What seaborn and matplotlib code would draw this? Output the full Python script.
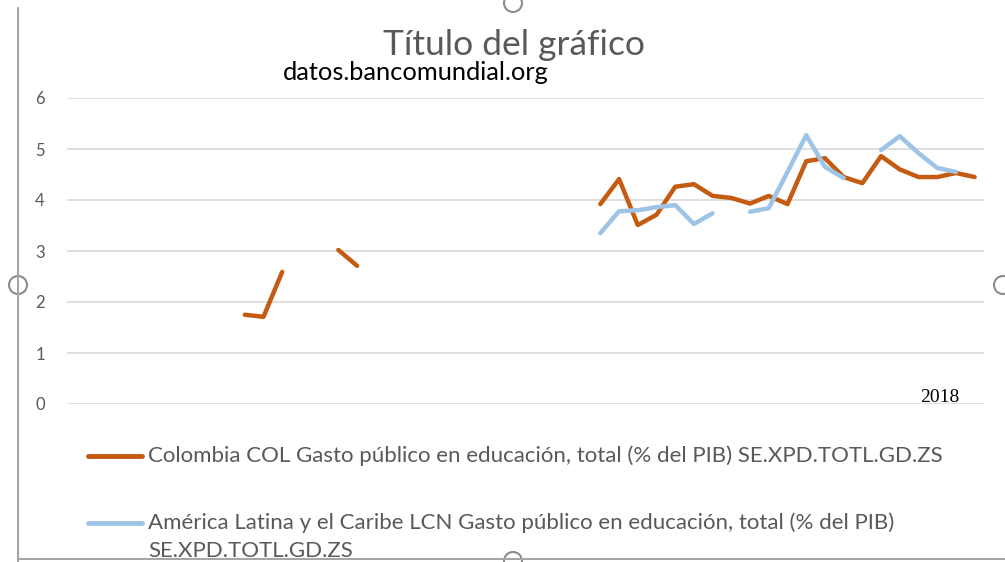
import seaborn as sns
import matplotlib.pyplot as plt
import matplotlib.patches as mpatches
from matplotlib.lines import Line2D
import numpy as np
import pandas as pd

# Datos (1970-2018), NaN = sin dato
anios = list(range(1970, 2019))
colombia = {
    1979: 1.75, 1980: 1.71, 1981: 2.59,
    1984: 3.02, 1985: 2.71,
    1998: 3.92, 1999: 4.41, 2000: 3.51, 2001: 3.71, 2002: 4.26, 2003: 4.31,
    2004: 4.08, 2005: 4.04, 2006: 3.93, 2007: 4.08, 2008: 3.92, 2009: 4.76,
    2010: 4.82, 2011: 4.45, 2012: 4.33, 2013: 4.86, 2014: 4.60, 2015: 4.45,
    2016: 4.45, 2017: 4.53, 2018: 4.45,
}
america_latina = {
    1998: 3.35, 1999: 3.78, 2000: 3.80, 2001: 3.86, 2002: 3.90, 2003: 3.53,
    2004: 3.74,
    2006: 3.77, 2007: 3.84, 2008: 4.55, 2009: 5.27, 2010: 4.65, 2011: 4.43,
    2013: 4.98, 2014: 5.25, 2015: 4.92, 2016: 4.63, 2017: 4.55,
}

etiqueta_col = "Colombia COL Gasto público en educación, total (% del PIB) SE.XPD.TOTL.GD.ZS"
etiqueta_lac = ["América Latina y el Caribe LCN Gasto público en educación, total (% del PIB)",
                "SE.XPD.TOTL.GD.ZS"]
color_col = "#C55A11"
color_lac = "#9DC3E6"
gris = "#595959"

sns.set_style("white")
plt.rcParams['font.family'] = ['Lato', 'DejaVu Sans']

fig = plt.figure(figsize=(10.05, 5.62), dpi=100)
ax = fig.add_axes([67 / 1005, 1 - 404 / 562, 917 / 1005, 306 / 562])


def tramos(datos):
    serie = pd.Series([datos.get(a, np.nan) for a in anios], index=anios).dropna()
    df = serie.rename("valor").rename_axis("anio").reset_index()
    df["tramo"] = (df["anio"].diff() != 1).cumsum()
    return df


for datos, color in [(colombia, color_col), (america_latina, color_lac)]:
    sns.lineplot(data=tramos(datos), x="anio", y="valor", units="tramo",
                 estimator=None, color=color, lw=3.2, ax=ax, legend=False,
                 solid_capstyle="round", solid_joinstyle="round")

ax.set_xlim(1969.5, 2018.5)
ax.set_ylim(0, 6)
ax.set_yticks(range(0, 7))
ax.set_xticks([])
ax.set_xlabel("")
ax.set_ylabel("")
ax.yaxis.grid(True, color="#D9D9D9", lw=1.2)
ax.tick_params(axis="y", length=0, pad=16, labelsize=12, labelcolor=gris)
for s in ax.spines.values():
    s.set_visible(False)

# Títulos
fig.text(514 / 1005, 1 - 45 / 562, "Título del gráfico", ha="center", va="center",
         fontsize=25.5, color=gris)
fig.text(283 / 1005, 1 - 72 / 562, "datos.bancomundial.org", ha="left", va="center",
         fontsize=18.3, color="black")
fig.text(940 / 1005, 1 - 397 / 562, "2018", ha="center", va="center",
         fontsize=14, color="black", family="Liberation Serif")

# Leyenda
fig.add_artist(Line2D([88 / 1005, 142 / 1005], [1 - 456 / 562] * 2, color=color_col, lw=3.5))
fig.text(148 / 1005, 1 - 456 / 562, etiqueta_col, ha="left", va="center",
         fontsize=16, color=gris)
fig.add_artist(Line2D([88 / 1005, 142 / 1005], [1 - 523 / 562] * 2, color=color_lac, lw=3.5))
fig.text(148 / 1005, 1 - 523 / 562, etiqueta_lac[0], ha="left", va="center",
         fontsize=16, color=gris)
fig.text(148 / 1005, 1 - 551 / 562, etiqueta_lac[1], ha="left", va="center",
         fontsize=16, color=gris)

# Marco y controladores de selección del gráfico
fig.add_artist(Line2D([18 / 1005, 18 / 1005], [0.0, 0.985], color="#A6A6A6", lw=1.5))
fig.add_artist(Line2D([18 / 1005, 1.0], [3 / 562, 3 / 562], color="#A6A6A6", lw=1.5))
for cx, cy in [(513, 3), (513, 561), (18, 285), (1003, 285)]:
    fig.add_artist(mpatches.Ellipse((cx / 1005, 1 - cy / 562), 18 / 1005, 18 / 562,
                                    facecolor="white", edgecolor="#8C8C8C", lw=1.5))

fig.savefig("out.png", dpi=100)
